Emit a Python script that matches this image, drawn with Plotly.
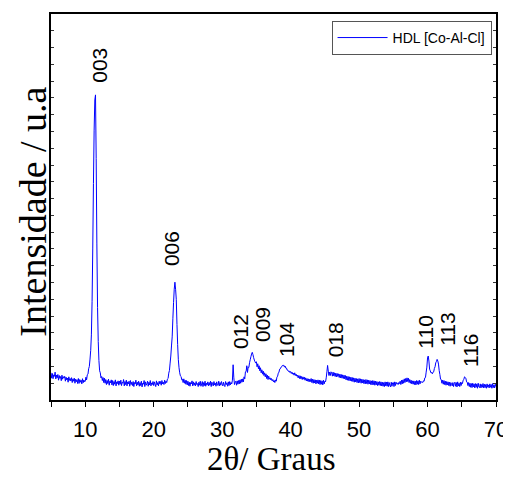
import plotly.graph_objects as go

# 2-theta grid: 5.0 .. 70.0 in 0.1 degree steps
two_theta_start = 5.0
two_theta_step = 0.1

# Intensity (a.u.), one row per degree (x.0 .. x.9)
intensity_rows = [
    [162,130,158,127,150,141,166,125,149,132],  # 5
    [152,118,146,129,140,115,148,124,139,131],  # 6
    [141,112,136,120,131,106,138,117,128,113],  # 7
    [133,104,126,112,130,100,124,109,121,98],   # 8
    [128,99,122,106,118,96,127,103,119,108],    # 9
    [112,136,120,150,154,186,200,244,296,388],  # 10
    [588,900,1290,1608,1788,1818,1440,930,552,348],  # 11
    [236,174,162,132,140,116,134,104,130,100],  # 12
    [122,92,116,98,124,88,112,102,120,90],      # 13
    [116,86,110,94,120,84,108,98,114,88],       # 14
    [112,94,118,86,106,100,122,84,110,92],      # 15
    [118,84,108,96,112,82,116,92,106,86],       # 16
    [110,80,104,96,118,84,106,90,112,82],       # 17
    [104,86,112,78,100,94,116,80,108,88],       # 18
    [96,112,82,106,90,116,84,102,92,110],       # 19
    [86,108,94,80,114,90,104,84,112,96],        # 20
    [110,88,116,96,106,92,118,98,112,104],      # 21
    [124,128,160,176,220,262,322,376,484,580],  # 22
    [660,702,660,600,450,330,240,192,162,144],  # 23
    [140,120,124,104,126,100,118,94,116,90],    # 24
    [112,86,106,82,104,96,114,84,108,88],       # 25
    [102,84,110,92,98,80,106,88,112,82],        # 26
    [96,110,80,104,86,112,82,100,90,108],       # 27
    [84,104,88,112,80,106,94,84,110,90],        # 28
    [100,82,108,90,86,112,84,104,88,110],       # 29
    [94,84,106,88,80,110,92,102,82,108],        # 30
    [86,110,90,104,96,118,210,136,92,106],      # 31
    [112,88,114,94,116,96,120,100,124,106],     # 32
    [126,108,138,126,168,170,204,164,196,194],  # 33
    [222,240,258,274,284,270,252,238,228,220],  # 34
    [228,198,216,186,204,174,192,162,180,154],  # 35
    [172,146,162,138,156,128,148,122,142,124],  # 36
    [132,120,128,114,122,108,116,104,120,112],  # 37
    [136,142,160,166,184,186,196,198,206,204],  # 38
    [208,196,202,190,190,178,178,170,172,164],  # 39
    [170,158,166,154,160,148,162,146,154,142],  # 40
    [148,132,146,128,144,126,140,122,138,124],  # 41
    [136,118,132,114,128,112,126,108,124,110],  # 42
    [128,104,124,100,122,102,120,96,118,100],   # 43
    [120,96,118,92,116,94,114,90,118,96],       # 44
    [112,108,132,168,206,172,146,166,146,168],  # 45
    [162,142,166,144,162,140,160,138,158,140],  # 46
    [156,134,154,132,152,130,150,128,148,126],  # 47
    [146,120,142,118,140,116,138,114,136,112],  # 48
    [134,110,132,106,130,108,128,104,126,102],  # 49
    [128,104,126,100,124,102,122,98,120,96],    # 50
    [122,98,120,94,118,96,116,92,114,90],       # 51
    [116,92,114,88,112,90,110,86,108,88],       # 52
    [110,86,108,84,106,82,104,80,108,84],       # 53
    [106,82,108,80,104,86,78,106,82,102],       # 54
    [104,80,108,86,106,96,100,92,104,98],       # 55
    [112,92,118,96,120,100,126,104,128,108],    # 56
    [132,110,130,104,122,100,118,96,114,94],    # 57
    [114,92,112,90,116,94,114,92,118,96],       # 58
    [112,106,108,104,114,112,132,134,166,196],  # 59
    [250,262,232,184,174,162,164,156,166,168],  # 60
    [188,198,222,230,242,232,214,176,152,124],  # 61
    [122,100,118,94,116,92,112,88,110,90],      # 62
    [108,86,106,82,104,98,84,104,80,100],       # 63
    [106,82,104,78,108,84,100,80,106,86],       # 64
    [104,98,118,122,138,134,130,108,106,86],    # 65
    [104,80,100,76,98,74,100,78,96,72],         # 66
    [98,76,96,70,100,78,74,96,72,92],           # 67
    [76,98,72,94,74,92,70,96,76,90],            # 68
    [72,96,76,92,70,98,74,90,72,94],            # 69
    [80],                                       # 70.0
]
intensity = [v for row in intensity_rows for v in row]
two_theta = [round(two_theta_start + i * two_theta_step, 1) for i in range(len(intensity))]

series_name = "HDL [Co-Al-Cl]"

# Peak labels (Miller indices) and where their text sits
peak_labels = ["003", "006", "012", "009", "104", "018", "110", "113", "116"]
label_x = [12.1, 22.7, 32.6, 35.9, 39.4, 46.6, 59.7, 62.8, 66.25]
label_y = [1885, 790, 300, 340, 250, 250, 300, 318, 190]

x_tickvals = [10, 20, 30, 40, 50, 60, 70]
x_ticktext = ["10", "20", "30", "40", "50", "60", "70"]

x_title = "2θ/ Graus"
y_title = "Intensidade / u.a"

fig = go.Figure()
fig.add_trace(go.Scatter(
    x=two_theta, y=intensity, mode="lines", name=series_name,
    line=dict(color="#0000FF", width=1, simplify=False),
))

for txt, lx, ly in zip(peak_labels, label_x, label_y):
    fig.add_annotation(
        x=lx, y=ly, xref="x", yref="y", text=txt, showarrow=False,
        textangle=-90, xanchor="center", yanchor="bottom",
        font=dict(family="Liberation Sans, Arial", size=21, color="black"),
        borderpad=0,
    )

# axis titles
fig.add_annotation(
    x=0.4963, y=-0.154, xref="paper", yref="paper", text=x_title, showarrow=False,
    xanchor="center", yanchor="middle", borderpad=0,
    font=dict(family="Liberation Serif, Times New Roman", size=33, color="black"),
)
fig.add_annotation(
    x=-0.0404, y=0.488, xref="paper", yref="paper", text=y_title, showarrow=False,
    textangle=-90, xanchor="center", yanchor="middle", borderpad=0,
    font=dict(family="Liberation Serif, Times New Roman", size=38, color="black"),
)

# the page body adds an 8px offset, so the figure is 8px smaller than the window
fig.update_layout(
    width=503, height=472,
    margin=dict(l=43, r=15, t=6, b=80),
    paper_bgcolor="white", plot_bgcolor="white",
    showlegend=True,
    legend=dict(
        x=0.99, xanchor="right", y=0.982, yanchor="top",
        bordercolor="#555555", borderwidth=1, bgcolor="white",
        font=dict(family="Liberation Sans, Arial", size=14, color="black"),
        tracegroupgap=0, itemwidth=50,
    ),
    xaxis=dict(
        range=[5, 70], tickvals=x_tickvals, ticktext=x_ticktext,
        ticks="outside", ticklen=5, tickwidth=1.2, tickcolor="black",
        minor=dict(dtick=5, tick0=5, ticks="outside", ticklen=5, tickwidth=1.2, tickcolor="black"),
        showline=True, linecolor="black", linewidth=1.5, mirror=True,
        showgrid=False, zeroline=False, automargin=False, ticklabelstandoff=4,
        tickfont=dict(family="Liberation Sans, Arial", size=22, color="black"),
    ),
    yaxis=dict(
        range=[0, 2300], dtick=100, showticklabels=False,
        ticks="inside", ticklen=3, tickwidth=1, tickcolor="#333333",
        showline=True, linecolor="black", linewidth=1.5, mirror="ticks",
        showgrid=False, zeroline=False, automargin=False,
    ),
)

fig.write_html("out.html")
